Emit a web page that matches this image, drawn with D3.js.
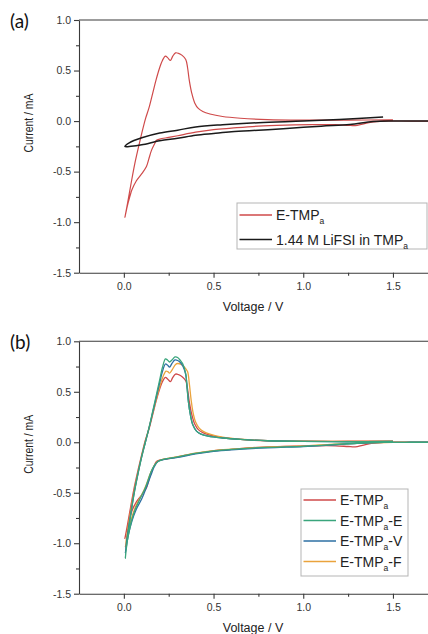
<!DOCTYPE html>
<html>
<head>
<meta charset="utf-8">
<script src="https://cdn.jsdelivr.net/npm/d3@7"></script>
<style>
  body { margin: 0; background: #fff; }
  svg { display: block; font-family: "Liberation Sans", Arial, sans-serif; }
  .tick text { fill: #333; }
</style>
</head>
<body>
<svg id="chart" width="428" height="634"></svg>
<script>
//DATA
const voltTicks = [0, 0.5, 1.0, 1.5];
const voltMinor = [0.25, 0.75, 1.25];
const currentTicks = [-1.5, -1.0, -0.5, 0.0, 0.5, 1.0];
const currentMinor = [-1.25, -0.75, -0.25, 0.25, 0.75];

// [voltage V, current mA], cathodic scan then anodic scan
const eTmpa = [
  [1.80, 0.0], [1.60, 0.0], [1.45, 0.0], [1.38, -0.01], [1.33, -0.03], [1.29, -0.045], [1.25, -0.042],
  [1.18, -0.035], [1.05, -0.035], [0.90, -0.04], [0.75, -0.05], [0.60, -0.07], [0.50, -0.085],
  [0.40, -0.11], [0.30, -0.145], [0.25, -0.162], [0.20, -0.178], [0.182, -0.19], [0.17, -0.23],
  [0.154, -0.29], [0.14, -0.37], [0.126, -0.45], [0.10, -0.52], [0.07, -0.59], [0.045, -0.68],
  [0.033, -0.75], [0.018, -0.85], [0.006, -0.952],
  [0.02, -0.82], [0.04, -0.62], [0.06, -0.43], [0.08, -0.27], [0.10, -0.12], [0.12, 0.02],
  [0.14, 0.13], [0.16, 0.27], [0.18, 0.41], [0.20, 0.53], [0.215, 0.60], [0.232, 0.643],
  [0.245, 0.625], [0.26, 0.60], [0.272, 0.64], [0.288, 0.675], [0.305, 0.67], [0.325, 0.65],
  [0.345, 0.61], [0.355, 0.53], [0.365, 0.40], [0.378, 0.28], [0.395, 0.18], [0.415, 0.125],
  [0.44, 0.095], [0.48, 0.07], [0.55, 0.045], [0.65, 0.028], [0.80, 0.015], [1.00, 0.01],
  [1.25, 0.01], [1.50, 0.012]
];

const lifsiTmpa = [
  [1.80, 0.0], [1.60, 0.0], [1.50, 0.0], [1.39, -0.005], [1.26, -0.033], [1.10, -0.05], [0.888, -0.076],
  [0.75, -0.09], [0.60, -0.105], [0.50, -0.122], [0.40, -0.14], [0.30, -0.17], [0.20, -0.195],
  [0.10, -0.235], [0.04, -0.25], [0.006, -0.252],
  [0.03, -0.215], [0.10, -0.165], [0.20, -0.118], [0.30, -0.09], [0.40, -0.058], [0.55, -0.036],
  [0.75, -0.016], [1.00, 0.0], [1.20, 0.015], [1.445, 0.04]
];

const eTmpaE = [
  [1.80, 0.0], [1.60, 0.0], [1.45, -0.002], [1.30, -0.01], [1.15, -0.025], [1.00, -0.04], [0.80, -0.05],
  [0.60, -0.07], [0.50, -0.085], [0.40, -0.11], [0.30, -0.145], [0.22, -0.17], [0.19, -0.19],
  [0.17, -0.23], [0.15, -0.30], [0.12, -0.45], [0.09, -0.56], [0.06, -0.68], [0.04, -0.80],
  [0.02, -0.97], [0.008, -1.15],
  [0.02, -0.95], [0.04, -0.70], [0.06, -0.48], [0.08, -0.30], [0.10, -0.14], [0.12, 0.0],
  [0.14, 0.14], [0.16, 0.30], [0.18, 0.46], [0.20, 0.62], [0.215, 0.74], [0.232, 0.825],
  [0.243, 0.815], [0.255, 0.795], [0.268, 0.815], [0.285, 0.845], [0.30, 0.84], [0.315, 0.81],
  [0.33, 0.77], [0.345, 0.68], [0.352, 0.55], [0.36, 0.40], [0.37, 0.28], [0.385, 0.17],
  [0.405, 0.11], [0.43, 0.08], [0.47, 0.06], [0.55, 0.042], [0.65, 0.028], [0.80, 0.015],
  [1.00, 0.008], [1.25, 0.005], [1.50, 0.008]
];

const eTmpaV = [
  [1.80, 0.0], [1.60, 0.0], [1.45, -0.002], [1.30, -0.012], [1.15, -0.028], [1.00, -0.042], [0.80, -0.055],
  [0.60, -0.075], [0.50, -0.09], [0.40, -0.115], [0.30, -0.15], [0.22, -0.172], [0.19, -0.19],
  [0.17, -0.24], [0.15, -0.33], [0.125, -0.45], [0.10, -0.56], [0.07, -0.66], [0.045, -0.78],
  [0.025, -0.92], [0.008, -1.10],
  [0.02, -0.92], [0.04, -0.69], [0.06, -0.48], [0.08, -0.30], [0.10, -0.14], [0.12, 0.0],
  [0.14, 0.14], [0.16, 0.29], [0.18, 0.44], [0.20, 0.59], [0.215, 0.70], [0.232, 0.775],
  [0.243, 0.765], [0.255, 0.745], [0.268, 0.78], [0.285, 0.815], [0.30, 0.81], [0.315, 0.79],
  [0.33, 0.75], [0.345, 0.67], [0.352, 0.55], [0.36, 0.40], [0.37, 0.28], [0.385, 0.17],
  [0.405, 0.11], [0.43, 0.08], [0.47, 0.06], [0.55, 0.042], [0.65, 0.028], [0.80, 0.015],
  [1.00, 0.008], [1.25, 0.005], [1.50, 0.008]
];

const eTmpaF = [
  [1.80, 0.0], [1.60, 0.0], [1.50, 0.0], [1.35, -0.008], [1.15, -0.02], [1.00, -0.035], [0.80, -0.048],
  [0.60, -0.068], [0.50, -0.082], [0.40, -0.108], [0.30, -0.142], [0.22, -0.168], [0.19, -0.185],
  [0.17, -0.23], [0.15, -0.30], [0.125, -0.42], [0.10, -0.52], [0.07, -0.62], [0.045, -0.74],
  [0.025, -0.88], [0.008, -1.04],
  [0.02, -0.88], [0.04, -0.66], [0.06, -0.46], [0.08, -0.29], [0.10, -0.13], [0.12, 0.01],
  [0.14, 0.14], [0.16, 0.28], [0.18, 0.42], [0.20, 0.55], [0.218, 0.65], [0.235, 0.705],
  [0.245, 0.70], [0.255, 0.685], [0.27, 0.72], [0.288, 0.77], [0.30, 0.78], [0.32, 0.77],
  [0.34, 0.74], [0.355, 0.70], [0.365, 0.58], [0.375, 0.42], [0.385, 0.30], [0.40, 0.20],
  [0.42, 0.14], [0.445, 0.105], [0.48, 0.08], [0.55, 0.05], [0.65, 0.03], [0.80, 0.016],
  [1.00, 0.01], [1.25, 0.008], [1.50, 0.01]
];

//SERIES SETUP
const panelA = {
  tag: "(a)", top: 20, bottom: 272.7, tagY: 28,
  series: [
    {data: eTmpa, color: "#cf4a4a", width: 1.2},
    {data: lifsiTmpa, color: "#1a1a1a", width: 1.5}
  ],
  legend: {
    x: 237, y: 203, w: 190, h: 46, rows: [215, 239.5],
    labels: [["E-TMP", "a", ""], ["1.44 M LiFSI in TMP", "a", ""]],
    colors: ["#cf4a4a", "#1a1a1a"]
  }
};

const panelB = {
  tag: "(b)", top: 341.3, bottom: 593.7, tagY: 349,
  series: [
    {data: eTmpa, color: "#cf4a4a", width: 1.3},
    {data: eTmpaF, color: "#eaa33c", width: 1.3},
    {data: eTmpaV, color: "#2d6fa3", width: 1.3},
    {data: eTmpaE, color: "#3aa57c", width: 1.3}
  ],
  legend: {
    x: 301, y: 489, w: 107, h: 87, rows: [500, 520.5, 541, 561.5],
    labels: [["E-TMP", "a", ""], ["E-TMP", "a", "-E"], ["E-TMP", "a", "-V"], ["E-TMP", "a", "-F"]],
    colors: ["#cf4a4a", "#3aa57c", "#2d6fa3", "#eaa33c"]
  }
};

const svg = d3.select("#chart");
const x = d3.scaleLinear().domain([-0.25, 1.75]).range([79, 437.8]);

drawPanel(panelA, "a");
drawPanel(panelB, "b");

//DRAW ONE PANEL
function drawPanel(p, id){
  const y = d3.scaleLinear().domain([-1.5, 1.0]).range([p.bottom, p.top]);
  const g = svg.append("g");

  svg.append("clipPath").attr("id", "clip-" + id)
    .append("rect")
    .attr("x", x.range()[0]).attr("y", p.top)
    .attr("width", x.range()[1] - x.range()[0]).attr("height", p.bottom - p.top);

  const line = d3.line()
    .x(d => x(d[0]))
    .y(d => y(d[1]))
    .curve(d3.curveCatmullRom.alpha(0.5));

  g.append("g").attr("clip-path", "url(#clip-" + id + ")")
    .selectAll("path").data(p.series)
    .enter().append("path")
    .attr("d", d => line(d.data))
    .attr("fill", "none")
    .attr("stroke", d => d.color)
    .attr("stroke-width", d => d.width)
    .attr("stroke-linejoin", "round");

  //AXES
  const fmt = d => d.toFixed(1);
  g.append("g").attr("transform", "translate(0," + p.bottom + ")")
    .call(d3.axisBottom(x).tickValues(voltTicks).tickFormat(fmt).tickSize(5).tickSizeOuter(0).tickPadding(5));
  g.append("g").attr("transform", "translate(0," + p.bottom + ")")
    .call(d3.axisBottom(x).tickValues(voltMinor).tickFormat("").tickSize(3).tickSizeOuter(0))
    .select(".domain").remove();
  g.append("g").attr("transform", "translate(" + x.range()[0] + ",0)")
    .call(d3.axisLeft(y).tickValues(currentTicks).tickFormat(fmt).tickSize(5).tickSizeOuter(0).tickPadding(3));
  g.append("g").attr("transform", "translate(" + x.range()[0] + ",0)")
    .call(d3.axisLeft(y).tickValues(currentMinor).tickFormat("").tickSize(3).tickSizeOuter(0))
    .select(".domain").remove();

  g.selectAll(".domain, .tick line").attr("stroke", "#3a3a3a").attr("stroke-width", 1.1);
  g.selectAll(".tick text").attr("font-size", 10.5).attr("font-family", "Liberation Sans, Arial, sans-serif");

  g.append("line")
    .attr("x1", x.range()[0]).attr("x2", x.range()[1])
    .attr("y1", p.top).attr("y2", p.top)
    .attr("stroke", "#3a3a3a").attr("stroke-width", 1.1);

  //AXIS TITLES
  g.append("text")
    .attr("transform", "translate(33," + (y(0) + 2) + ") rotate(-90)")
    .attr("text-anchor", "middle")
    .attr("font-size", 13)
    .attr("textLength", 59)
    .attr("lengthAdjust", "spacingAndGlyphs")
    .attr("fill", "#222")
    .text("Current / mA");
  g.append("text")
    .attr("x", 253).attr("y", p.bottom + 38)
    .attr("text-anchor", "middle")
    .attr("font-size", 12.5)
    .attr("fill", "#222")
    .text("Voltage / V");

  g.append("text")
    .attr("x", 10).attr("y", p.tagY)
    .attr("font-size", 19)
    .attr("font-family", "Lato, Open Sans, sans-serif")
    .attr("fill", "#111")
    .text(p.tag);

  //LEGEND
  const L = p.legend;
  g.append("rect")
    .attr("x", L.x).attr("y", L.y).attr("width", L.w).attr("height", L.h)
    .attr("fill", "#fff").attr("stroke", "#b5b5b5").attr("stroke-width", 1);
  const rows = g.selectAll(".legrow").data(L.labels)
    .enter().append("g").attr("class", "legrow")
    .attr("transform", (d, i) => "translate(0," + L.rows[i] + ")");
  rows.append("line")
    .attr("x1", L.x + 2.5).attr("x2", L.x + 35)
    .attr("y1", 0).attr("y2", 0)
    .attr("stroke", (d, i) => L.colors[i]).attr("stroke-width", 1.4);
  const t = rows.append("text")
    .attr("x", L.x + 39).attr("y", 5)
    .attr("font-size", 14).attr("fill", "#222");
  t.append("tspan").text(d => d[0]);
  t.append("tspan").attr("font-size", 8.5).attr("dy", 4).text(d => d[1]);
  t.append("tspan").attr("dy", -4).text(d => d[2]);
}
</script>
</body>
</html>
